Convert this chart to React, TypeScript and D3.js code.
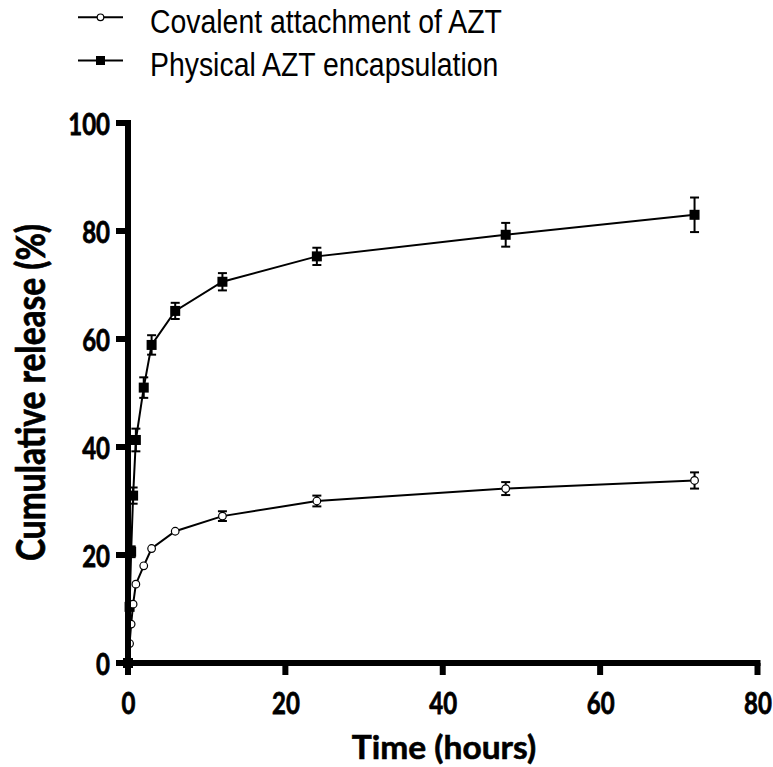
import React from "react";
import * as d3 from "d3";

const times = [0, 0.2, 0.4, 0.65, 1, 2, 3, 6, 12, 24, 48, 72];
const covalent = [0, 3.6, 7.2, 10.9, 14.6, 18.0, 21.2, 24.4, 27.2, 30.0, 32.3, 33.8];
const covalentErr = [0, 0.3, 0.3, 0.4, 0.4, 0.4, 0.5, 0.5, 0.9, 1.0, 1.2, 1.5];
const physical = [0, 10.4, 20.6, 31.0, 41.3, 51.0, 58.9, 65.2, 70.6, 75.3, 79.3, 83.0];
const physicalErr = [0, 0.5, 1.0, 1.5, 2.1, 1.9, 1.8, 1.5, 1.6, 1.6, 2.2, 3.2];
const xTicks = [0, 20, 40, 60, 80];
const yTicks = [0, 20, 40, 60, 80, 100];
const seriesNames = ["Covalent attachment of AZT", "Physical AZT encapsulation"];
const xTitle = "Time (hours)";
const yTitle = "Cumulative release (%)";

const W = 773;
const H = 767;

export default function App() {
  const x = d3.scaleLinear().domain([0, 80]).range([128, 757.5]);
  const y = d3.scaleLinear().domain([0, 100]).range([663, 123]);
  const line = d3
    .line<number>()
    .x((_, i) => x(times[i]))
    .y((d) => y(d));

  const boldFont = "Lato, 'Open Sans', sans-serif";
  const legendFont = "'Liberation Sans', Arial, sans-serif";
  const cap = 4.5;

  const errBars = (vals: number[], errs: number[], key: string) =>
    vals.map((v, i) =>
      errs[i] > 0.6 ? (
        <g key={key + i} stroke="#000" strokeWidth={2}>
          <line x1={x(times[i])} x2={x(times[i])} y1={y(v - errs[i])} y2={y(v + errs[i])} />
          <line x1={x(times[i]) - cap} x2={x(times[i]) + cap} y1={y(v + errs[i])} y2={y(v + errs[i])} />
          <line x1={x(times[i]) - cap} x2={x(times[i]) + cap} y1={y(v - errs[i])} y2={y(v - errs[i])} />
        </g>
      ) : null
    );

  const legendRows = [
    { lineY: 17.3, base: 33.3, marker: "circle" },
    { lineY: 60.5, base: 76.3, marker: "square" },
  ];

  return (
    <svg
      width={W}
      height={H}
      style={{ position: "absolute", left: 0, top: 0, background: "#fff" }}
    >
      <rect width={W} height={H} fill="#fff" />
      {/* Legend */}
      {legendRows.map((r, i) => (
        <g key={"lg" + i}>
          <line x1={78} x2={123} y1={r.lineY} y2={r.lineY} stroke="#000" strokeWidth={2} />
          {r.marker === "circle" ? (
            <circle cx={100.5} cy={r.lineY} r={3.3} fill="#fff" stroke="#000" strokeWidth={1.2} />
          ) : (
            <rect x={96} y={r.lineY - 4.5} width={9} height={9} fill="#000" />
          )}
          <text
            transform={`translate(150, ${r.base}) scale(1, 1.16)`}
            fontFamily={legendFont}
            fontSize={28.4}
            fill="#000"
          >
            {seriesNames[i]}
          </text>
        </g>
      ))}

      {/* Data: physical */}
      <path d={line(physical) || ""} fill="none" stroke="#000" strokeWidth={2} />
      {errBars(physical, physicalErr, "pe")}
      {physical.map((v, i) => (
        <rect key={"p" + i} x={x(times[i]) - 5} y={y(v) - 5} width={10} height={10} fill="#000" />
      ))}

      {/* Data: covalent */}
      <path d={line(covalent) || ""} fill="none" stroke="#000" strokeWidth={2} />
      {errBars(covalent, covalentErr, "ce")}
      {covalent.map((v, i) => (
        <circle key={"c" + i} cx={x(times[i])} cy={y(v)} r={3.8} fill="#fff" stroke="#000" strokeWidth={1.2} />
      ))}

      {/* Axes */}
      <g stroke="#000" strokeWidth={6} strokeLinecap="butt">
        <line x1={x(0)} x2={x(0)} y1={y(100) - 3} y2={y(0) + 12} />
        <line x1={x(0) - 12} x2={x(80) + 3} y1={y(0)} y2={y(0)} />
        {yTicks.map((t) => (
          <line key={"yt" + t} x1={x(0) - 12} x2={x(0)} y1={y(t)} y2={y(t)} />
        ))}
        {xTicks.map((t) => (
          <line key={"xt" + t} x1={x(t)} x2={x(t)} y1={y(0)} y2={y(0) + 12} />
        ))}
      </g>
      <g fontFamily={boldFont} fontWeight="bold" fill="#000" stroke="#000" strokeWidth={0.6}>
        {yTicks.map((t) => (
          <text
            key={"yl" + t}
            transform={`translate(${x(0) - 18}, ${y(t) + 12}) scale(1, 1.25)`}
            textAnchor="end"
            fontSize={24}
          >
            {t}
          </text>
        ))}
        {xTicks.map((t) => (
          <text
            key={"xl" + t}
            transform={`translate(${x(t) + 0.5}, 713.5) scale(1, 1.25)`}
            textAnchor="middle"
            fontSize={24}
          >
            {t}
          </text>
        ))}
        <text
          transform={`translate(444, 759) scale(1, 0.95)`}
          textAnchor="middle"
          fontSize={33.5}
        >
          {xTitle}
        </text>
        <text
          transform={`translate(45, 392.5) rotate(-90) scale(1, 1.17)`}
          textAnchor="middle"
          fontSize={33.5}
        >
          {yTitle}
        </text>
      </g>
    </svg>
  );
}
